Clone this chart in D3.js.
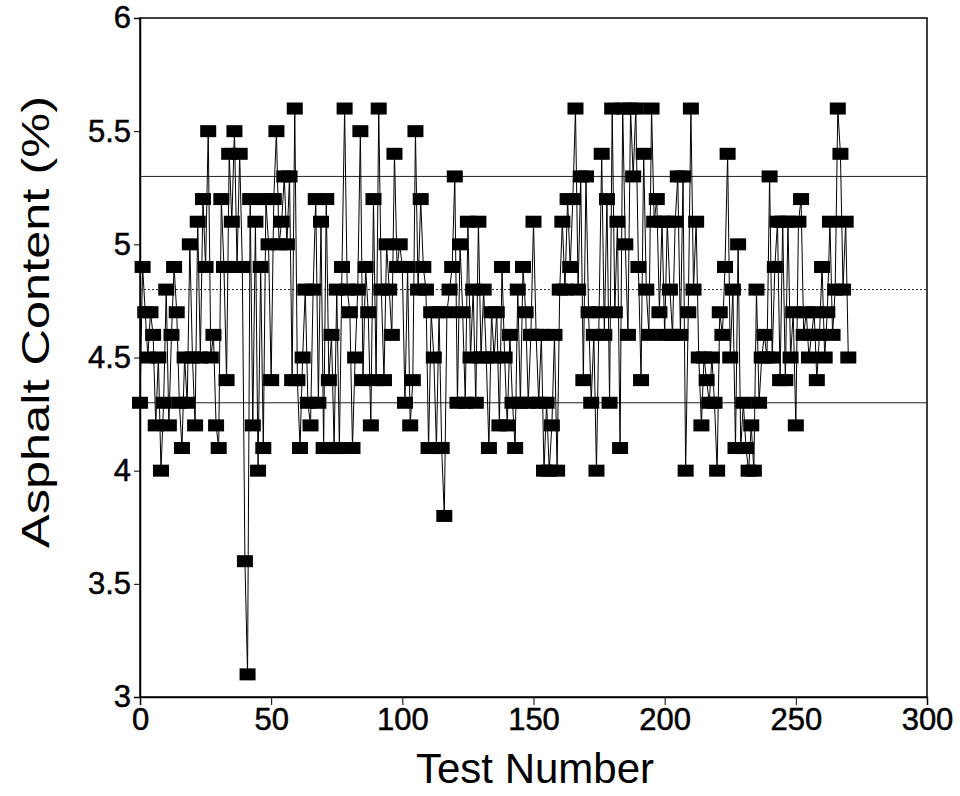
<!DOCTYPE html>
<html>
<head>
<meta charset="utf-8">
<script src="https://cdn.jsdelivr.net/npm/d3@7"></script>
<style>
html,body{margin:0;padding:0;background:#fff;}
svg{display:block;}
</style>
</head>
<body>
<svg id="chart" width="960" height="796"></svg>
<script>
// Asphalt content (%) by test number, 0..270
const asphalt = [
4.3,4.9,4.7,4.5,4.7,4.6,4.2,4.5,4.0,4.3,
4.8,4.2,4.6,4.9,4.7,4.3,4.1,4.5,4.3,5.0,
4.5,4.2,5.1,4.5,5.2,4.9,5.5,4.5,4.6,4.2,
4.1,5.2,4.9,4.4,5.4,5.1,5.5,4.9,5.4,4.9,
3.6,3.1,5.2,4.2,5.1,4.0,4.9,4.1,5.2,5.0,
4.4,5.2,5.5,5.0,5.1,5.3,5.0,5.3,4.4,5.6,
4.4,4.1,4.5,4.8,4.3,4.2,4.8,5.2,4.3,5.1,
4.1,5.2,4.4,4.6,4.1,4.8,4.1,4.9,5.6,4.8,
4.7,4.1,4.5,4.8,5.5,4.4,4.9,4.7,4.2,5.2,
4.4,5.6,4.8,4.4,5.0,4.8,4.6,5.4,4.9,5.0,
4.9,4.3,4.9,4.2,4.4,5.5,4.8,5.2,4.9,4.8,
4.1,4.7,4.5,4.1,4.7,4.1,3.8,4.7,4.8,4.9,
5.3,4.3,5.0,4.7,4.3,5.1,4.5,4.8,4.3,5.1,
4.5,4.8,4.5,4.1,4.7,4.5,4.7,4.2,4.9,4.5,
4.2,4.6,4.3,4.1,4.8,4.3,4.9,4.7,4.3,4.6,
5.1,4.6,4.3,4.6,4.0,4.3,4.0,4.2,4.6,4.0,
4.8,5.1,4.8,5.2,4.9,5.2,5.6,4.8,5.3,4.4,
5.3,4.7,4.3,4.6,4.0,4.7,5.4,4.6,5.2,4.3,
5.6,4.7,5.1,4.1,5.6,5.0,4.6,5.6,5.3,5.6,
4.9,4.4,5.4,4.8,4.6,5.6,5.1,5.2,4.7,5.1,
4.6,5.1,4.8,4.6,5.1,5.3,4.6,5.3,4.0,4.7,
5.6,4.8,5.1,4.5,4.2,4.5,4.4,4.3,4.5,4.3,
4.0,4.7,4.6,4.9,5.4,4.5,4.8,4.1,5.0,4.1,
4.3,4.1,4.0,4.2,4.0,4.8,4.3,4.5,4.6,4.5,
5.3,4.5,4.9,5.1,4.4,5.1,4.4,5.1,4.5,4.7,
4.2,5.1,5.2,4.6,4.7,4.5,4.6,4.7,4.4,4.6,
4.9,4.5,4.7,5.1,4.6,4.8,5.6,5.4,4.8,5.1,
4.5
];
const testNumbers = asphalt.map((d, i) => i);
const upperLimit = 5.3;
const targetValue = 4.8;
const lowerLimit = 4.3;
const xTicks = [0, 50, 100, 150, 200, 250, 300];
const yTicks = [3, 3.5, 4, 4.5, 5, 5.5, 6];
const yTickLabels = ["3", "3.5", "4", "4.5", "5", "5.5", "6"];

(function () {
const svg = d3.select("#chart");
const pLeft = 140, pRight = 927, pTop = 18, pBottom = 697;

const x = d3.scaleLinear().domain([0, 300]).range([pLeft, pRight]);
const y = d3.scaleLinear().domain([3, 6]).range([pBottom, pTop]);

const font = "'Liberation Sans', Arial, Helvetica, sans-serif";
const tickFont = "'Liberation Sans Narrow', 'Arial Narrow', 'Liberation Sans', Arial, sans-serif";

// frame
svg.append("rect")
  .attr("x", pLeft).attr("y", pTop)
  .attr("width", pRight - pLeft).attr("height", pBottom - pTop)
  .attr("fill", "none").attr("stroke", "#000").attr("stroke-width", 1.5);

// reference lines
const refs = [
  {v: upperLimit, dash: null},
  {v: targetValue, dash: "2,2"},
  {v: lowerLimit, dash: null}
];
svg.selectAll("line.ref").data(refs).enter().append("line")
  .attr("class", "ref")
  .attr("x1", pLeft).attr("x2", pRight)
  .attr("y1", d => y(d.v)).attr("y2", d => y(d.v))
  .attr("stroke", "#222").attr("stroke-width", 1)
  .attr("stroke-dasharray", d => d.dash);

// axes
const xAxis = d3.axisBottom(x).tickValues(xTicks).tickSize(8).tickPadding(3).tickFormat(d3.format("d"));
const gx = svg.append("g").attr("transform", `translate(0,${pBottom})`).call(xAxis);
gx.select(".domain").attr("stroke-width", 1.5);
gx.selectAll("text").attr("font-family", tickFont).attr("font-size", 31)
  .attr("fill", "#000").attr("stroke", "#000").attr("stroke-width", 0.5);

const yAxis = d3.axisLeft(y).tickValues(yTicks).tickSize(6).tickPadding(3)
  .tickFormat((d, i) => yTickLabels[i]);
const gy = svg.append("g").attr("transform", `translate(${pLeft},0)`).call(yAxis);
gy.select(".domain").attr("stroke-width", 1.5);
gy.selectAll("text").attr("font-family", tickFont).attr("font-size", 31)
  .attr("fill", "#000").attr("stroke", "#000").attr("stroke-width", 0.5);

// line
const line = d3.line().x((d, i) => x(testNumbers[i])).y(d => y(d));
svg.append("path").datum(asphalt)
  .attr("d", line)
  .attr("fill", "none").attr("stroke", "#000").attr("stroke-width", 1);

// markers
const mw = 16, mh = 12;
svg.selectAll("rect.pt").data(asphalt).enter().append("rect")
  .attr("class", "pt")
  .attr("x", (d, i) => x(testNumbers[i]) - mw / 2)
  .attr("y", d => y(d) - mh / 2)
  .attr("width", mw).attr("height", mh)
  .attr("fill", "#000");

// axis titles
svg.append("text")
  .attr("x", 535).attr("y", 783)
  .attr("text-anchor", "middle")
  .attr("font-family", font).attr("font-size", 42)
  .text("Test Number");

svg.append("text")
  .attr("transform", "translate(49,322) rotate(-90)")
  .attr("text-anchor", "middle")
  .attr("font-family", font).attr("font-size", 39)
  .attr("textLength", 452).attr("lengthAdjust", "spacingAndGlyphs")
  .text("Asphalt Content (%)");
})();
</script>
</body>
</html>
